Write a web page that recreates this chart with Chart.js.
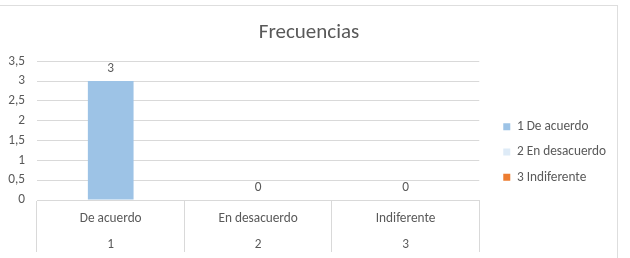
<!DOCTYPE html>
<html>
<head>
<meta charset="utf-8">
<script src="https://cdn.jsdelivr.net/npm/chart.js@4.4.1/dist/chart.umd.min.js"></script>
<style>
    html, body { margin: 0; padding: 0; background: #fff; width: 630px; height: 258px; overflow: hidden; }
    #frame { position: absolute; left: -2px; top: 5px; width: 619px; height: 270px; border-top: 1px solid #dedede; border-right: 1px solid #dedede; }
    #box { position: absolute; left: 0; top: 5px; width: 618px; height: 253px; }
</style>
</head>
<body>
<div id="frame"></div>
<div id="box"><canvas id="chart"></canvas></div>
<script>
const categories = ['De acuerdo', 'En desacuerdo', 'Indiferente'];
const codes = ['1', '2', '3'];
const values = [3, 0, 0];
const colors = ['#9dc3e6', '#deebf7', '#ed7d31'];
const yTickLabels = ['0', '0,5', '1', '1,5', '2', '2,5', '3', '3,5'];

const FONT = "Carlito, 'Liberation Sans Narrow', Calibri, sans-serif";
const TEXT = '#595959';
const GRID = '#d9d9d9';
const PAD_RIGHT = 14;

// one dataset per category so the legend lists every point (like Excel's vary colours)
const datasets = categories.map((cat, i) => ({
    label: codes[i] + ' ' + cat,
    data: values.map((v, j) => (j === i ? v : null)),
    backgroundColor: colors[i],
    borderWidth: 0,
}));

const valueLabels = {
    id: 'valueLabels',
    afterDatasetsDraw(chart) {
        const { ctx } = chart;
        ctx.save();
        ctx.font = '13.3px ' + FONT;
        ctx.fillStyle = TEXT;
        ctx.textAlign = 'center';
        ctx.textBaseline = 'middle';
        chart.data.datasets.forEach((ds, i) => {
            chart.getDatasetMeta(i).data.forEach((bar, j) => {
                if (ds.data[j] === null) return;
                ctx.fillText(String(ds.data[j]), bar.x, bar.y - 12);
            });
        });
        ctx.restore();
    }
};

// nudge legend away from the plot and centre the title on the whole frame
const legendShift = {
    id: 'legendShift',
    afterLayout(chart) {
        const lg = chart.legend;
        lg.left += 12;
        lg.right += 12;
        lg.top += 14;
        lg.bottom += 14;
        chart.titleBlock.right += PAD_RIGHT;
    }
};

new Chart(document.getElementById('chart'), {
    type: 'bar',
    data: { labels: categories, datasets },
    plugins: [valueLabels, legendShift],
    options: {
        responsive: true,
        maintainAspectRatio: false,
        animation: false,
        skipNull: true,
        categoryPercentage: 1,
        barPercentage: 0.31,
        layout: { padding: { top: 14, right: PAD_RIGHT, bottom: 1, left: 0 } },
        plugins: {
            title: {
                display: true,
                text: 'Frecuencias',
                color: TEXT,
                font: { family: FONT, size: 21, weight: 'normal' },
                padding: { top: 1, bottom: 16 },
            },
            legend: {
                position: 'right',
                labels: {
                    color: TEXT,
                    font: { family: FONT, size: 13.3 },
                    boxWidth: 7,
                    boxHeight: 7,
                    padding: 12,
                },
            },
            tooltip: { enabled: false },
        },
        scales: {
            x: {
                grid: {
                    offset: true,
                    drawOnChartArea: false,
                    color: GRID,
                    tickLength: 52,
                },
                border: { color: GRID },
                ticks: {
                    color: TEXT,
                    font: { family: FONT, size: 13.3, lineHeight: '26px' },
                    padding: -46,
                    callback: (v, i) => [categories[i], codes[i]],
                },
                afterFit: (s) => { s.height = 57; },
            },
            y: {
                min: 0,
                max: 3.5,
                grid: { color: GRID, drawTicks: false },
                border: { display: false },
                ticks: {
                    stepSize: 0.5,
                    color: TEXT,
                    font: { family: FONT, size: 13.3 },
                    padding: 12,
                    callback: (v, i) => yTickLabels[i],
                },
                afterFit: (s) => { s.width = 37; },
            },
        },
    },
});
</script>
</body>
</html>
